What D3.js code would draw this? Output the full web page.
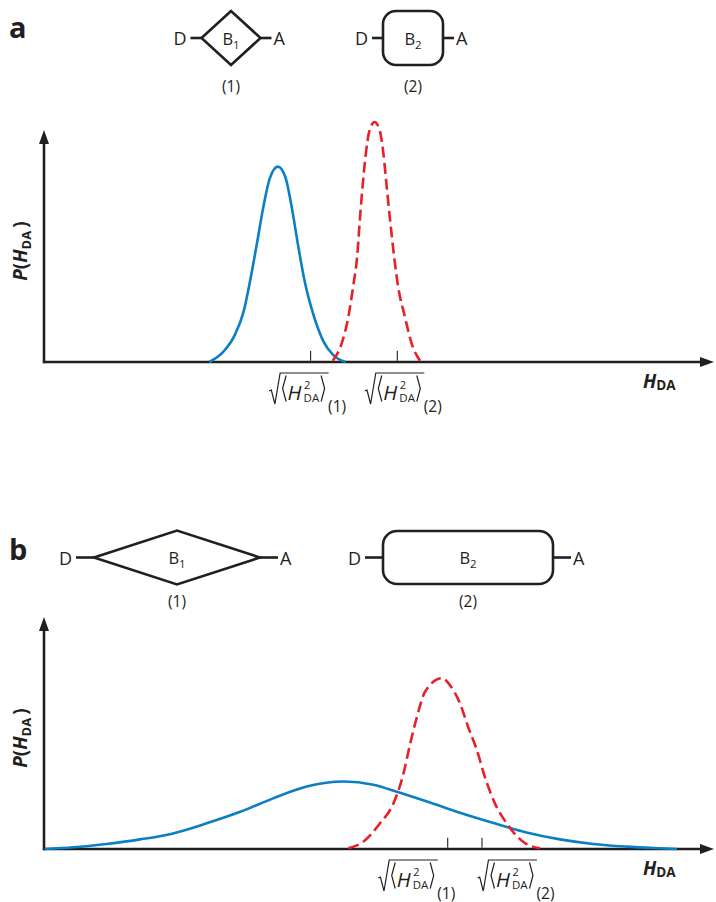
<!DOCTYPE html>
<html>
<head>
<meta charset="utf-8">
<script src="https://cdn.jsdelivr.net/npm/d3@7"></script>
<style>
  body { margin: 0; background: #fff; }
  text { font-family: "Open Sans", "Noto Sans", sans-serif; fill: #231f20; }
</style>
</head>
<body>
<script>
var width = 716;
var height = 902;
var ink = "#231f20";
var blue = "#0a7fc4";
var red = "#e8202a";

// curves: [H_DA, P(H_DA)]
var blueA = [[24.6,0],[26.7,0.043],[28.4,0.113],[29.7,0.21],[30.65,0.335],[31.65,0.488],[32.6,0.64],[33.6,0.765],[34.8,0.814],[35.9,0.772],[36.9,0.64],[37.8,0.488],[38.8,0.335],[40.1,0.196],[41.6,0.085],[43.05,0.029],[44.9,0]];
var redA = [[42.96,0.005],[44.3,0.078],[45.3,0.189],[46.0,0.314],[46.6,0.439],[47.0,0.592],[47.4,0.73],[47.9,0.87],[48.4,0.96],[49.2,1.0],[50.0,0.96],[50.5,0.87],[51.0,0.73],[51.5,0.592],[52.1,0.439],[52.7,0.314],[53.7,0.189],[54.7,0.078],[55.95,0.005]];
var blueB = [[0.1,0],[4.4,0.007],[9.3,0.021],[14.3,0.04],[19.2,0.065],[24.2,0.107],[29.2,0.155],[34.1,0.211],[39.1,0.26],[44.6,0.281],[49.0,0.268],[53.0,0.234],[57.0,0.198],[61.9,0.151],[66.9,0.108],[71.8,0.069],[76.8,0.04],[81.7,0.021],[86.7,0.01],[91.7,0.003],[94.2,0]];
var redB = [[45.3,0.003],[47.5,0.03],[50.0,0.107],[52.0,0.19],[53.5,0.315],[54.5,0.44],[55.5,0.551],[56.7,0.655],[59.2,0.712],[60.4,0.683],[61.9,0.607],[63.1,0.51],[64.4,0.413],[65.6,0.301],[67.1,0.19],[68.85,0.107],[71.3,0.03],[73.8,0.003]];

// rms positions marked on the axis
var ticksA = [39.6, 52.5];
var ticksB = [60.0, 65.1];
var tickSubs = ["(1)", "(2)"];
var bridgeNames = ["B", "B"];
var bridgeSubs = ["1", "2"];
var panelNames = ["a", "b"];

var svg = d3.select("body").append("svg")
	.attr("width", width)
	.attr("height", height);

var x = d3.scaleLinear().domain([0, 100]).range([44, 716]);

// layout of each panel (pixels)
var panels = [
	{ name: panelNames[0], base: 362, top: 130, blue: blueA, red: redA, ticks: ticksA, labelDx: [-41, -32],
	  dia: { cx: 231, cy: 38, hw: 29.5, hh: 27 }, box: { x0: 383, x1: 443, y0: 11, y1: 65, r: 13 }, lead: 10, capY: 92 },
	{ name: panelNames[1], base: 849, top: 617, blue: blueB, red: redB, ticks: ticksB, labelDx: [-69, -4],
	  dia: { cx: 177, cy: 557.5, hw: 83, hh: 27 }, box: { x0: 383, x1: 553, y0: 531, y1: 584, r: 14 }, lead: 17, capY: 607 }
];

panels.forEach(function(p) {
	var y = d3.scaleLinear().domain([0, 1]).range([p.base, p.base - 240]);
	var g = svg.append("g");

	// panel letter
	g.append("text")
		.attr("x", 9)
		.attr("y", p.name == "a" ? 38 : 560)
		.attr("font-size", 29)
		.attr("font-weight", "bold")
		.text(p.name);

	// --- bridge diagrams ---
	var d = p.dia;
	g.append("path")
		.attr("d", "M" + (d.cx - d.hw) + "," + d.cy + "L" + d.cx + "," + (d.cy - d.hh) + "L" + (d.cx + d.hw) + "," + d.cy + "L" + d.cx + "," + (d.cy + d.hh) + "Z")
		.attr("fill", "none").attr("stroke", ink).attr("stroke-width", 2.6).attr("stroke-linejoin", "miter");
	var b = p.box;
	g.append("rect")
		.attr("x", b.x0).attr("y", b.y0)
		.attr("width", b.x1 - b.x0).attr("height", b.y1 - b.y0)
		.attr("rx", b.r).attr("ry", b.r)
		.attr("fill", "none").attr("stroke", ink).attr("stroke-width", 2.6);

	var shapes = [
		{ l: d.cx - d.hw, r: d.cx + d.hw, cy: d.cy, cx: d.cx, lead: p.lead + 1 },
		{ l: b.x0, r: b.x1, cy: (b.y0 + b.y1) / 2, cx: (b.x0 + b.x1) / 2, lead: p.lead + 1 }
	];
	shapes.forEach(function(s, i) {
		g.append("line").attr("x1", s.l - s.lead).attr("x2", s.l).attr("y1", s.cy).attr("y2", s.cy)
			.attr("stroke", ink).attr("stroke-width", 2.6);
		g.append("line").attr("x1", s.r).attr("x2", s.r + s.lead).attr("y1", s.cy).attr("y2", s.cy)
			.attr("stroke", ink).attr("stroke-width", 2.6);
		g.append("text").attr("x", s.l - s.lead - 4).attr("y", s.cy + 7)
			.attr("text-anchor", "end").attr("font-size", 18).text("D");
		g.append("text").attr("x", s.r + s.lead + 2).attr("y", s.cy + 7)
			.attr("font-size", 18).text("A");
		var bt = g.append("text").attr("x", s.cx).attr("y", s.cy + 6.5)
			.attr("text-anchor", "middle").attr("font-size", 16.5);
		bt.append("tspan").text(bridgeNames[i]);
		bt.append("tspan").attr("font-size", 11.5).attr("dy", 4).text(bridgeSubs[i]);
		g.append("text").attr("x", s.cx).attr("y", p.capY)
			.attr("text-anchor", "middle").attr("font-size", 15.5).text(tickSubs[i]);
	});

	// --- axes ---
	g.append("line").attr("x1", 44).attr("x2", 44).attr("y1", p.base + 1.3).attr("y2", p.top + 8)
		.attr("stroke", ink).attr("stroke-width", 2.6);
	g.append("path")
		.attr("d", "M44," + p.top + "L49," + (p.top + 14) + "L39," + (p.top + 14) + "Z")
		.attr("fill", ink);
	g.append("line").attr("x1", 44).attr("x2", 705).attr("y1", p.base).attr("y2", p.base)
		.attr("stroke", ink).attr("stroke-width", 2.6);
	g.append("path")
		.attr("d", "M714," + p.base + "L700," + (p.base - 5) + "L700," + (p.base + 5) + "Z")
		.attr("fill", ink);

	var ax = g.append("g")
		.attr("transform", "translate(0," + (p.base - 1.3) + ")")
		.call(d3.axisBottom(x).tickValues(p.ticks).tickSize(-10).tickFormat(""));
	ax.select(".domain").remove();
	ax.selectAll(".tick line").attr("stroke", ink).attr("stroke-width", 1.1);

	// axis titles
	var yt = g.append("text")
		.attr("transform", "translate(27," + (p.base - 111) + ") rotate(-90)")
		.attr("text-anchor", "middle")
		.attr("font-size", 19)
		.attr("font-weight", "bold");
	yt.append("tspan").attr("font-style", "italic").text("P");
	yt.append("tspan").text("(");
	yt.append("tspan").attr("font-style", "italic").text("H");
	yt.append("tspan").attr("font-size", 13).attr("dy", 4).text("DA");
	yt.append("tspan").attr("dy", -4).text("\u2009)");

	var xt = g.append("text")
		.attr("x", 643)
		.attr("y", p.base + 26)
		.attr("font-size", 19)
		.attr("font-weight", "bold");
	xt.append("tspan").attr("font-style", "italic").text("H");
	xt.append("tspan").attr("font-size", 13.5).attr("dy", 2).text("DA");

	// rms labels under the ticks
	p.ticks.forEach(function(t, i) {
		var x0 = x(t) + p.labelDx[i];
		var yb = p.base + 38;
		var lg = g.append("g").attr("transform", "translate(" + x0 + "," + yb + ")");
		lg.append("path")
			.attr("d", "M0,-9L2.2,-10L5.8,4L11,-27L59.5,-27")
			.attr("fill", "none").attr("stroke", ink).attr("stroke-width", 1.2);
		lg.append("path")
			.attr("d", "M17,-24.5L13.5,-11.5L17,1.5M52,-24.5L55.5,-11.5L52,1.5")
			.attr("fill", "none").attr("stroke", ink).attr("stroke-width", 1.2);
		lg.append("text").attr("x", 18.5).attr("y", 0)
			.attr("font-size", 20.5).attr("font-style", "italic").text("H");
		lg.append("text").attr("x", 35).attr("y", -11.5)
			.attr("font-size", 11).text("2");
		lg.append("text").attr("x", 34.5).attr("y", 2)
			.attr("font-size", 11.5).text("DA");
		lg.append("text").attr("x", 59).attr("y", 11.5)
			.attr("font-size", 15.5).text(tickSubs[i]);
	});

	// --- curves ---
	var line = d3.line()
		.x(function(v) { return x(v[0]); })
		.y(function(v) { return y(v[1]); })
		.curve(d3.curveMonotoneX);

	g.append("path").datum(p.blue)
		.attr("d", line)
		.attr("fill", "none").attr("stroke", blue).attr("stroke-width", 2.6);
	g.append("path").datum(p.red)
		.attr("d", line)
		.attr("fill", "none").attr("stroke", red).attr("stroke-width", 2.6)
		.attr("stroke-dasharray", "11,5");
});
</script>
</body>
</html>
